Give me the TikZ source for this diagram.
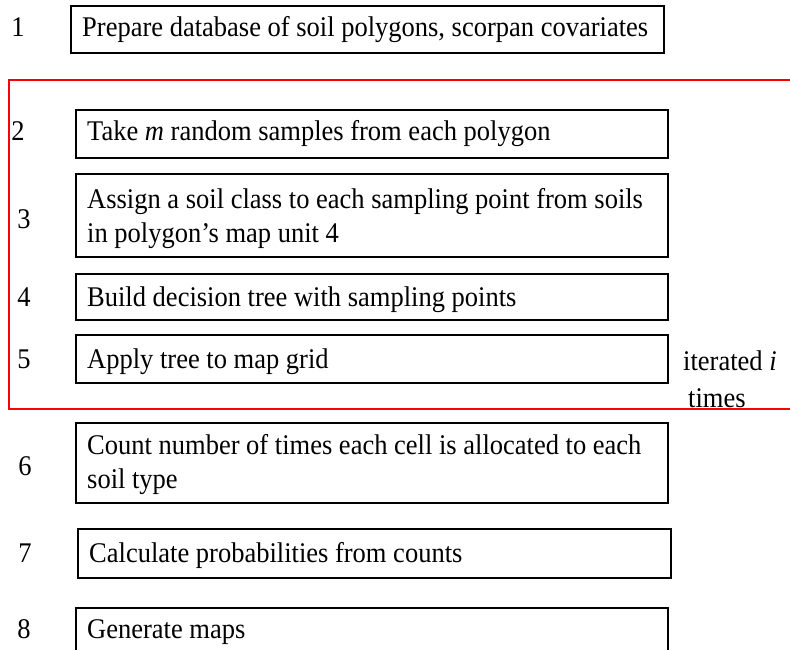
\documentclass[tikz,border=0pt]{standalone}
\usepackage{fontspec}
\setmainfont[FakeStretch=0.93]{Liberation Serif}
\begin{document}
\begin{tikzpicture}[x=1pt,y=-1pt,
  stepbox/.style={draw=black,line width=2.4pt,rectangle,inner sep=0pt,anchor=north west},
  steptext/.style={inner sep=0pt,anchor=base west,align=left},
  stepnum/.style={inner sep=0pt,anchor=base},
  loopline/.style={draw={rgb,255:red,255;green,0;blue,0},line width=2pt},
  font=\fontsize{28.5}{34}\selectfont]
\useasboundingbox (0,0) rectangle (790,650);
\clip (0,0) rectangle (790,650);

% iteration frame (open to the right)
\draw[loopline] (800,80) -- (9,80) -- (9,409) -- (800,409);

% step boxes
\node[stepbox,minimum width=593pt,minimum height=47pt] (b1) at (70,5) {};
\node[stepbox,minimum width=592pt,minimum height=48pt] (b2) at (75,109) {};
\node[stepbox,minimum width=592pt,minimum height=83pt] (b3) at (75,173) {};
\node[stepbox,minimum width=592pt,minimum height=46pt] (b4) at (75,273) {};
\node[stepbox,minimum width=592pt,minimum height=48pt] (b5) at (75,334) {};
\node[stepbox,minimum width=592pt,minimum height=80pt] (b6) at (75,422) {};
\node[stepbox,minimum width=593pt,minimum height=49pt] (b7) at (77,528) {};
\node[stepbox,minimum width=592pt,minimum height=60pt] (b8) at (75,607) {};

% step texts
\node[steptext] (t1) at (82,37) {Prepare database of soil polygons, scorpan covariates};
\node[steptext] (t2) at (87,141) {Take \textit{m} random samples from each polygon};
\node[steptext] (t3a) at (87,208) {Assign a soil class to each sampling point from soils};
\node[steptext] (t3b) at (87,242) {in polygon’s map unit 4};
\node[steptext] (t4) at (87,306) {Build decision tree with sampling points};
\node[steptext] (t5) at (87,368) {Apply tree to map grid};
\node[steptext] (t6a) at (87,454) {Count number of times each cell is allocated to each};
\node[steptext] (t6b) at (87,488) {soil type};
\node[steptext] (t7) at (89,562) {Calculate probabilities from counts};
\node[steptext] (t8) at (87,638) {Generate maps};

% step numbers
\node[stepnum] (n1) at (18,37) {1};
\node[stepnum] (n2) at (18,141) {2};
\node[stepnum] (n3) at (24,228) {3};
\node[stepnum] (n4) at (24,306) {4};
\node[stepnum] (n5) at (24,368) {5};
\node[stepnum] (n6) at (25,475) {6};
\node[stepnum] (n7) at (25,562) {7};
\node[stepnum] (n8) at (24,638) {8};

% loop label
\node[steptext] (it1) at (683,370) {iterated \textit{i}};
\node[steptext] (it2) at (688,407) {times};
\end{tikzpicture}
\end{document}
